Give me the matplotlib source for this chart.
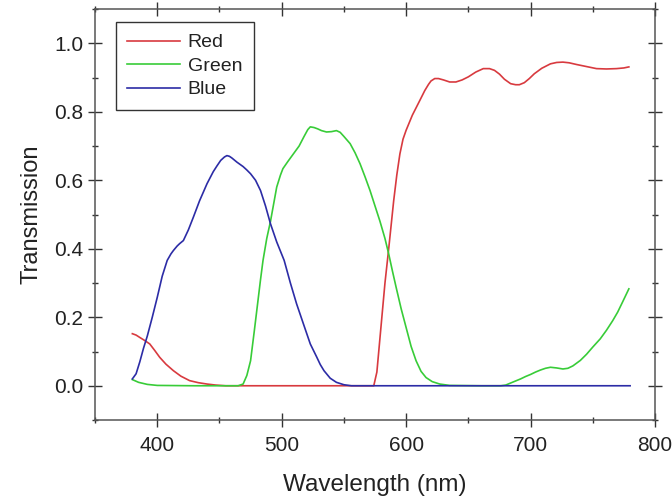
import matplotlib
matplotlib.use("Agg")
import matplotlib.pyplot as plt
from matplotlib.ticker import MultipleLocator

plt.rcParams['font.family'] = ['Liberation Sans', 'DejaVu Sans']

red_wl = [380, 383, 386, 390, 394, 398, 402, 407, 413, 419, 426, 433, 440, 447, 455, 500, 550, 570, 574, 576.5, 578.5, 580.5, 583, 586, 588, 590, 592.5, 595, 597.5, 600, 605, 611, 615, 618, 620, 623, 626, 630, 635, 640, 645, 650, 656, 662, 667, 671, 675, 679, 684, 688, 691, 695, 699, 703, 709, 716, 721, 726, 731, 737, 745, 753, 761, 769, 775, 779]
red_t = [0.152, 0.148, 0.141, 0.132, 0.122, 0.103, 0.083, 0.063, 0.044, 0.028, 0.015, 0.009, 0.005, 0.002, 0.0, 0.0, 0.0, 0.0, 0.0, 0.04, 0.12, 0.2, 0.3, 0.4, 0.47, 0.54, 0.615, 0.677, 0.72, 0.746, 0.79, 0.833, 0.862, 0.88, 0.89, 0.897, 0.897, 0.893, 0.887, 0.887, 0.893, 0.902, 0.916, 0.926, 0.926, 0.921, 0.91, 0.895, 0.882, 0.879, 0.879, 0.885, 0.897, 0.911, 0.927, 0.94, 0.944, 0.945, 0.943, 0.938, 0.932, 0.926, 0.925, 0.926, 0.928, 0.931]

green_wl = [380, 385, 392, 400, 430, 465, 469, 472, 475, 478, 480, 483, 485, 488, 491, 494, 496, 499, 501, 505, 510, 514, 518, 521, 523, 526, 529, 532, 536, 540, 544, 547, 550, 555, 559, 563, 567, 571, 575, 579, 583, 586, 589, 592, 596, 600, 604, 608, 612, 616, 621, 627, 635, 660, 676, 680, 684, 688, 692, 696, 700, 704, 708, 712, 716, 721, 726, 730, 734, 740, 745, 750, 756, 761, 766, 770, 774, 779]
green_t = [0.018, 0.01, 0.004, 0.001, 0.0, 0.0, 0.005, 0.03, 0.073, 0.16, 0.22, 0.31, 0.366, 0.43, 0.48, 0.54, 0.58, 0.615, 0.634, 0.655, 0.68, 0.7, 0.728, 0.748, 0.756, 0.754, 0.75, 0.745, 0.741, 0.742, 0.745, 0.74, 0.728, 0.707, 0.68, 0.648, 0.61, 0.57, 0.525, 0.48, 0.43, 0.385, 0.335, 0.287, 0.225, 0.17, 0.115, 0.073, 0.042, 0.024, 0.012, 0.005, 0.001, 0.0, 0.0, 0.002, 0.008, 0.014, 0.02, 0.027, 0.033, 0.04, 0.046, 0.051, 0.054, 0.052, 0.049, 0.051, 0.058, 0.074, 0.092, 0.113, 0.137, 0.162, 0.19, 0.215, 0.245, 0.283]

blue_wl = [380, 383, 386, 389, 392, 396, 400, 404, 408, 411, 413, 416, 418, 421, 425, 429, 434, 440, 445, 448, 451, 454, 456, 458, 460, 464, 469, 472, 475, 479, 483, 487, 491, 496, 502, 507, 512, 518, 523, 528, 531, 534, 539, 544, 550, 556, 600, 700, 780]
blue_t = [0.02, 0.035, 0.07, 0.11, 0.145, 0.2, 0.258, 0.32, 0.366, 0.385, 0.395, 0.408, 0.415, 0.424, 0.455, 0.492, 0.54, 0.59, 0.625, 0.642, 0.658, 0.668, 0.672, 0.67, 0.665, 0.653, 0.64, 0.63, 0.619, 0.6, 0.57, 0.525, 0.473, 0.42, 0.366, 0.3, 0.239, 0.175, 0.122, 0.085, 0.062, 0.044, 0.022, 0.01, 0.003, 0.0, 0.0, 0.0, 0.0]

fig = plt.figure(figsize=(6.72, 4.99), dpi=100)
ax = fig.add_axes([0.1414, 0.1583, 0.8333, 0.8236])

ax.plot(red_wl, red_t, color='#d83a3f', lw=1.2, label='Red')
ax.plot(green_wl, green_t, color='#38cc38', lw=1.2, label='Green')
ax.plot(blue_wl, blue_t, color='#2c2ca6', lw=1.2, label='Blue')

ax.set_xlim(350, 800)
ax.set_ylim(-0.1, 1.1)
ax.xaxis.set_major_locator(MultipleLocator(100))
ax.xaxis.set_minor_locator(MultipleLocator(50))
ax.yaxis.set_minor_locator(MultipleLocator(0.1))
ax.set_yticks([0.0, 0.2, 0.4, 0.6, 0.8, 1.0])
ax.set_yticklabels(['0.0', '0.2', '0.4', '0.6', '0.8', '1.0'])

ax.tick_params(which='both', direction='inout', top=True, right=True, labelsize=15, color='#333333', width=1, labelcolor='#222222')
ax.tick_params(which='major', length=10)
ax.tick_params(which='minor', length=5)
ax.tick_params(axis='x', pad=6.5)
for s in ax.spines.values():
    s.set_color('#555555')
    s.set_linewidth(1.1)

ax.set_xlabel('Wavelength (nm)', fontsize=17.5, labelpad=14, color='#222222')
ax.set_ylabel('Transmission', fontsize=17, labelpad=8, color='#222222')

leg = ax.legend(loc='upper left', bbox_to_anchor=(0.037, 0.968), borderaxespad=0,
                fontsize=14, fancybox=False, edgecolor='#333333', framealpha=1,
                handlelength=2.7, handletextpad=0.4, labelspacing=0.3, borderpad=0.6)
leg.get_frame().set_linewidth(1.0)
for t in leg.get_texts():
    t.set_color('#222222')

fig.savefig('out.png', dpi=100)
